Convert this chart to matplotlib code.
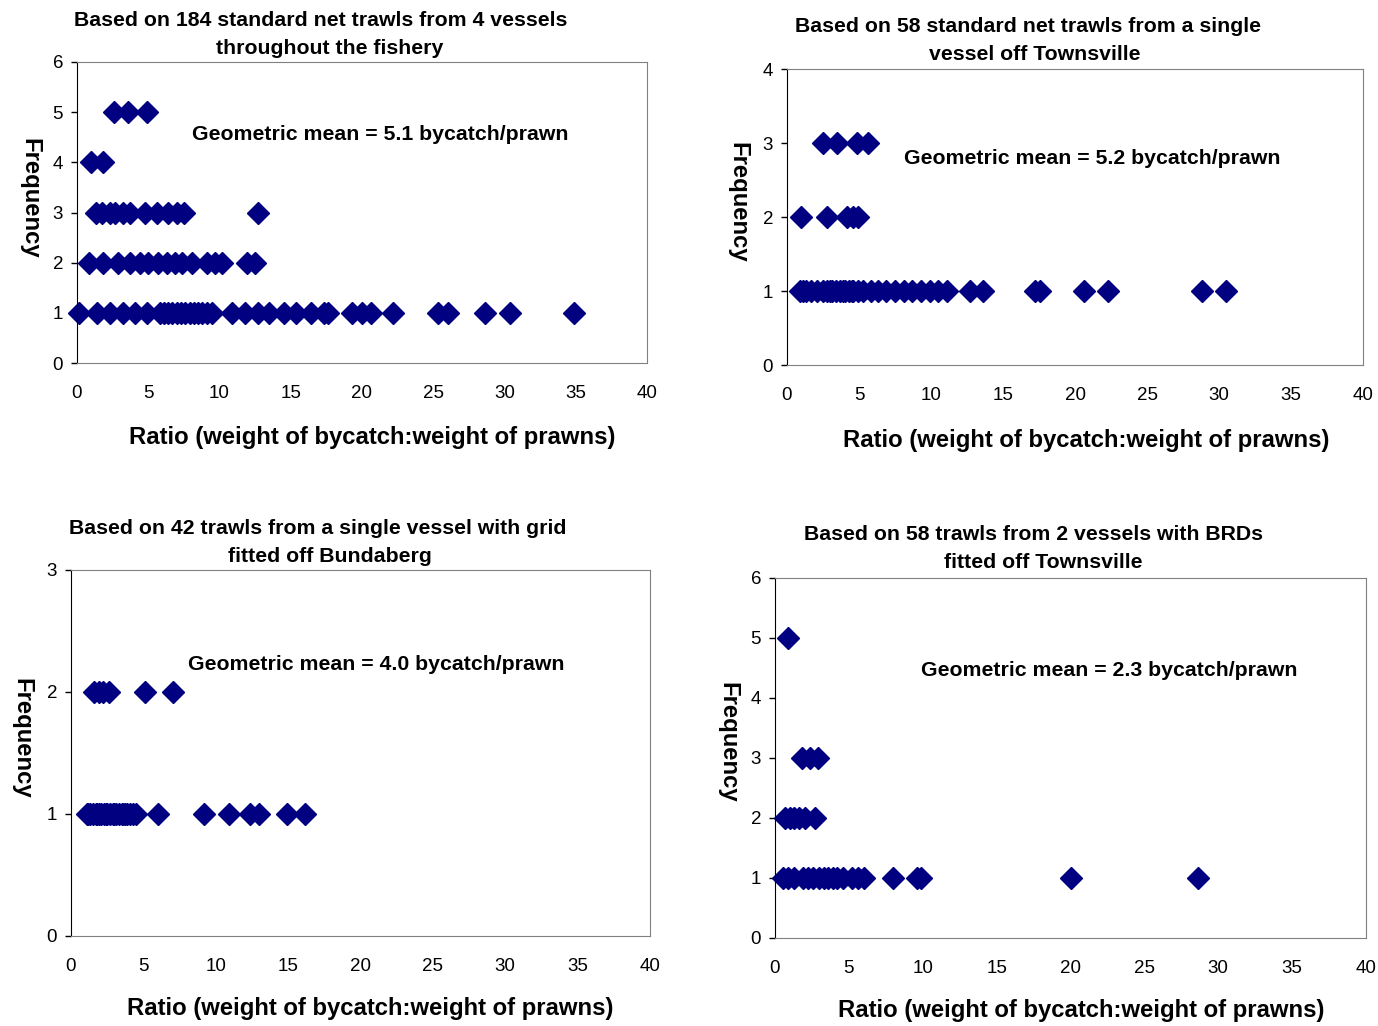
import matplotlib.pyplot as plt

plt.rcParams['font.family'] = ['Liberation Sans', 'DejaVu Sans']

W, H = 1378, 1026

# ratio values for each frequency level, one list per panel row
p1_f5 = [2.6, 3.6, 4.9]
p1_f4 = [1.0, 1.8]
p1_f3 = [1.3, 1.75, 2.3, 2.7, 3.2, 3.7, 4.8, 5.6, 6.4, 7.0, 7.5, 12.7]
p1_f2 = [0.85, 1.8, 2.9, 3.7, 4.4, 5.0, 5.7, 6.3, 6.9, 7.4, 8.1, 9.1, 9.7,
         10.2, 11.9, 12.5]
p1_f1 = [0.15, 1.4, 2.3, 3.2, 4.1, 4.9, 5.8, 6.1, 6.4, 6.7, 7.0, 7.3, 7.6,
         7.9, 8.2, 8.5, 8.8, 9.1, 9.5, 10.9, 11.8, 12.7, 13.5, 14.5, 15.4,
         16.4, 17.3, 17.6, 19.3, 20.0, 20.6, 22.2, 25.3, 26.0, 28.6, 30.4, 34.9]

p2_f3 = [2.5, 3.5, 4.85, 5.6]
p2_f2 = [1.0, 2.75, 4.2, 4.6, 4.9]
p2_f1 = [0.9, 1.1, 1.3, 1.7, 2.1, 2.5, 2.8, 3.0, 3.1, 3.4, 3.7, 3.9, 4.0,
         4.3, 4.5, 4.6, 4.9, 5.3, 5.8, 6.3, 6.9, 7.5, 8.1, 8.7, 9.3, 9.9,
         10.5, 11.1, 12.7, 13.6, 17.2, 17.6, 20.6, 22.3, 28.8, 30.5]

p3_f2 = [1.6, 1.9, 2.2, 2.6, 5.1, 7.05]
p3_f1 = [1.1, 1.2, 1.3, 1.5, 1.7, 1.8, 1.9, 2.1, 2.3, 2.4, 2.5, 2.7, 2.9,
         3.0, 3.1, 3.3, 3.5, 3.6, 3.7, 3.9, 4.1, 4.3, 4.5, 6.0, 9.2, 10.9,
         12.4, 13.0, 14.9, 16.2]

p4_f5 = [0.9]
p4_f3 = [1.85, 2.35, 2.9]
p4_f2 = [0.65, 1.0, 1.3, 1.6, 2.0, 2.7]
p4_f1 = [0.55, 0.9, 1.3, 1.9, 2.2, 2.6, 3.0, 3.3, 3.6, 3.9, 4.2, 4.6, 5.2,
         5.6, 6.0, 8.0, 9.6, 9.9, 20.0, 28.6]

panels = [
    {'rows': {5: p1_f5, 4: p1_f4, 3: p1_f3, 2: p1_f2, 1: p1_f1}, 'ymax': 6,
     'box': (77, 62, 647, 363),
     'title': [('Based on 184 standard net trawls from 4 vessels', 321, 21),
               ('throughout the fishery', 330, 49)],
     'gm': 'Geometric mean = 5.1 bycatch/prawn',
     'gm_xy': (192, 135), 'xl_xy': (372, 438), 'yl_xy': (30, 198)},
    {'rows': {3: p2_f3, 2: p2_f2, 1: p2_f1}, 'ymax': 4,
     'box': (787, 69, 1363, 365),
     'title': [('Based on 58 standard net trawls from a single', 1028, 27),
               ('vessel off Townsville', 1035, 55)],
     'gm': 'Geometric mean = 5.2 bycatch/prawn',
     'gm_xy': (904, 159), 'xl_xy': (1086, 440), 'yl_xy': (738, 202)},
    {'rows': {2: p3_f2, 1: p3_f1}, 'ymax': 3,
     'box': (71, 570, 650, 936),
     'title': [('Based on 42 trawls from a single vessel with grid', 318, 529),
               ('fitted off Bundaberg', 330, 557)],
     'gm': 'Geometric mean = 4.0 bycatch/prawn',
     'gm_xy': (188, 664), 'xl_xy': (370, 1009), 'yl_xy': (22, 738)},
    {'rows': {5: p4_f5, 3: p4_f3, 2: p4_f2, 1: p4_f1}, 'ymax': 6,
     'box': (775, 578, 1366, 938),
     'title': [('Based on 58 trawls from 2 vessels with BRDs', 1034, 535),
               ('fitted off Townsville', 1043, 563)],
     'gm': 'Geometric mean = 2.3 bycatch/prawn',
     'gm_xy': (921, 671), 'xl_xy': (1081, 1011), 'yl_xy': (728, 742)},
]

fig = plt.figure(figsize=(W / 100, H / 100), dpi=100)

for p in panels:
    x0, y0, x1, y1 = p['box']
    ax = fig.add_axes([x0 / W, 1 - y1 / H, (x1 - x0) / W, (y1 - y0) / H])
    for freq, ratios in p['rows'].items():
        ax.plot(ratios, [freq] * len(ratios), linestyle='none', marker='D',
                ms=11.5, color='#000080', clip_on=False)
    ax.set_xlim(0, 40)
    ax.set_ylim(0, p['ymax'])
    ax.set_xticks(range(0, 41, 5))
    ax.set_yticks(range(0, p['ymax'] + 1))
    ax.tick_params(axis='x', length=0, pad=16, labelsize=13.5)
    ax.tick_params(axis='y', length=4, width=1, pad=6, labelsize=13.5)
    for s in ['top', 'right']:
        ax.spines[s].set_color('#808080')
    ax.spines['left'].set_color('black')
    ax.spines['bottom'].set_color('#808080')

    for line, tx, ty in p['title']:
        fig.text(tx / W, 1 - ty / H, line, ha='center', va='center',
                 fontsize=15.3, fontweight='bold')
    fig.text(p['gm_xy'][0] / W, 1 - p['gm_xy'][1] / H, p['gm'],
             ha='left', va='center', fontsize=15.3, fontweight='bold')
    fig.text(p['xl_xy'][0] / W, 1 - p['xl_xy'][1] / H,
             'Ratio (weight of bycatch:weight of prawns)',
             ha='center', va='center', fontsize=17.2, fontweight='bold')
    fig.text(p['yl_xy'][0] / W, 1 - p['yl_xy'][1] / H, 'Frequency',
             ha='center', va='center', fontsize=17.2, fontweight='bold',
             rotation=-90)

fig.savefig('out.png', dpi=100)
